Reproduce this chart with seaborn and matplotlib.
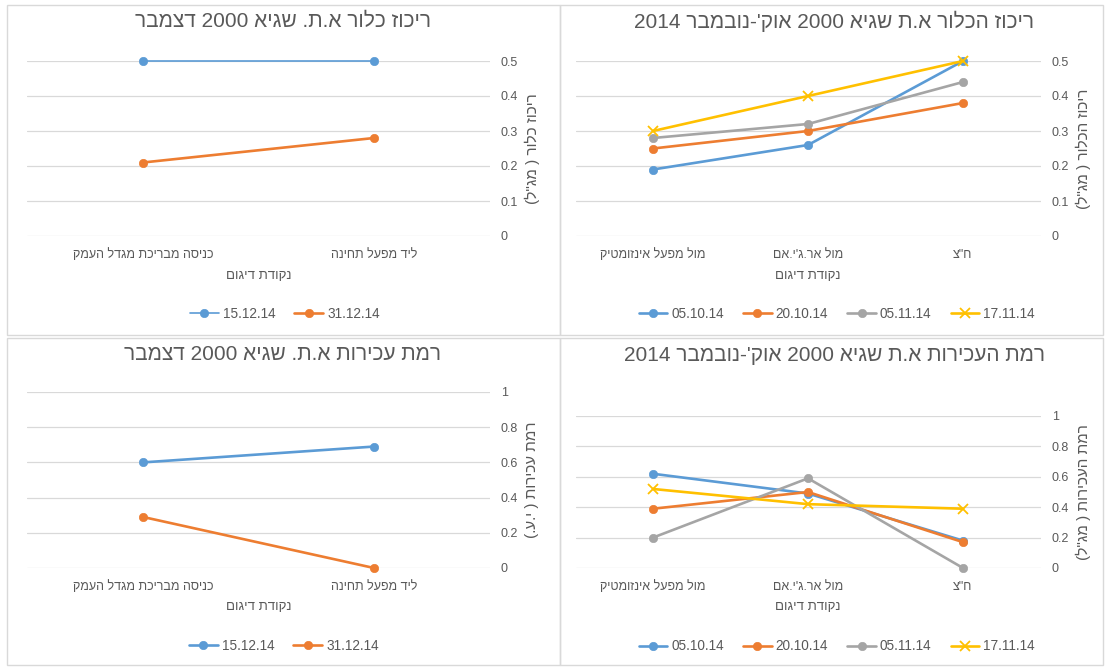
import re
import matplotlib
matplotlib.use("Agg")
import matplotlib.pyplot as plt
import seaborn as sns
from matplotlib.patches import Rectangle
from matplotlib.ticker import FuncFormatter, MultipleLocator

sns.set_style("white")
plt.rcParams['font.family'] = ['Liberation Sans', 'DejaVu Sans']

# --- data ---
sites_oct = ['ח"צ', "מול אר.ג'י.אם", 'מול מפעל אינזומטיק']
dates_oct = ['05.10.14', '20.10.14', '05.11.14', '17.11.14']
cl_0510 = [0.50, 0.26, 0.19]
cl_2010 = [0.38, 0.30, 0.25]
cl_0511 = [0.44, 0.32, 0.28]
cl_1711 = [0.50, 0.40, 0.30]
tb_0510 = [0.18, 0.49, 0.62]
tb_2010 = [0.17, 0.50, 0.39]
tb_0511 = [0.00, 0.59, 0.20]
tb_1711 = [0.39, 0.42, 0.52]

sites_dec = ['ליד מפעל תחינה', 'כניסה מבריכת מגדל העמק']
dates_dec = ['15.12.14', '31.12.14']
cl_1512 = [0.50, 0.50]
cl_3112 = [0.28, 0.21]
tb_1512 = [0.69, 0.60]
tb_3112 = [0.00, 0.29]

title_cl_oct = "ריכוז הכלור א.ת שגיא 2000 אוק'-נובמבר 2014"
title_cl_dec = "ריכוז כלור א.ת. שגיא 2000 דצמבר"
title_tb_oct = "רמת העכירות א.ת שגיא 2000 אוק'-נובמבר 2014"
title_tb_dec = "רמת עכירות א.ת. שגיא 2000 דצמבר"
ylab_cl_oct = 'ריכוז הכלור ( מג"ל)'
ylab_cl_dec = 'ריכוז כלור ( מג"ל)'
ylab_tb_oct = 'רמת העכירות ( מג"ל)'
ylab_tb_dec = 'רמת עכירות ( י.ע.)'
xlab = 'נקודת דיגום'

BLUE, ORANGE, GRAY, YELLOW = '#5B9BD5', '#ED7D31', '#A5A5A5', '#FFC000'
TXT = '#595959'
GRID = '#D9D9D9'


def rtl(s):
    # matplotlib has no bidi support: put hebrew text into visual order
    if not re.search('[\u0590-\u05FF]', s):
        return s
    mirror = {'(': ')', ')': '('}
    r = ''.join(mirror.get(c, c) for c in s[::-1])
    return re.sub(r'[0-9]+', lambda m: m.group(0)[::-1], r)


W, H = 1105, 668
fig = plt.figure(figsize=(W / 100, H / 100), dpi=100)

# panel frames (pixel coords)
for x0, y0, x1, y1 in [(7, 5, 560, 335), (560, 5, 1103, 335),
                       (7, 338, 560, 665), (560, 338, 1103, 665)]:
    fig.patches.append(Rectangle((x0 / W, 1 - y1 / H), (x1 - x0) / W, (y1 - y0) / H,
                                 transform=fig.transFigure, fill=False,
                                 edgecolor=GRID, lw=1))


def make_ax(x0, x1, ytop, ybot):
    return fig.add_axes([x0 / W, 1 - ybot / H, (x1 - x0) / W, (ybot - ytop) / H])


def style_ax(ax, sites, ymax, step, title, ylab, title_xy, xlab_y, leg_xy, ncol):
    n = len(sites)
    ax.set_xticks(range(n))
    ax.set_xticklabels([rtl(s) for s in sites])
    ax.set_xlim(n - 0.5, -0.5)
    ax.set_ylim(0, ymax)
    ax.yaxis.set_major_locator(MultipleLocator(step))
    ax.yaxis.set_major_formatter(FuncFormatter(lambda v, p: '%g' % round(v, 2)))
    ax.yaxis.tick_right()
    ax.tick_params(axis='both', length=0, labelsize=9, colors=TXT)
    ax.tick_params(axis='y', pad=8)
    ax.tick_params(axis='x', pad=9)
    for sp in ax.spines.values():
        sp.set_visible(False)
    ax.grid(axis='y', color=GRID, lw=0.9)
    ax.grid(axis='x', visible=False)
    ax.set_axisbelow(True)

    ax.set_title(rtl(title), fontsize=15, color=TXT, x=title_xy[0], y=title_xy[1], va='center')
    ax.set_xlabel(rtl(xlab), fontsize=9.5, color=TXT)
    ax.xaxis.set_label_coords(0.5, xlab_y)
    ax.xaxis.label.set_verticalalignment('center')
    ax.set_ylabel(rtl(ylab), fontsize=11, color=TXT, rotation=90)
    ax.yaxis.set_label_position('right')
    ax.yaxis.set_label_coords(1.092, 0.5)
    ax.yaxis.label.set_verticalalignment('center')

    leg = ax.legend(loc='center', bbox_to_anchor=leg_xy, ncol=ncol, frameon=False,
                    fontsize=9.8, handlelength=2.1, handletextpad=0.3, columnspacing=1.4)
    for t in leg.get_texts():
        t.set_color(TXT)


def draw(ax, sites, series, dates, colors, markers, widths):
    pos = list(range(len(sites)))
    for vals, d, c, m, lw in zip(series, dates, colors, markers, widths):
        ms = 7 if m == 'x' else 6
        sns.lineplot(x=pos, y=vals, ax=ax, color=c, lw=lw, marker=m, markersize=ms,
                     markeredgecolor=c, markeredgewidth=1.3 if m == 'x' else 0.5,
                     label=d, sort=False, clip_on=False)


# top right: chlorine Oct-Nov
ax = make_ax(575.5, 1040.5, 61, 236)
draw(ax, sites_oct, [cl_0510, cl_2010, cl_0511, cl_1711], dates_oct,
     [BLUE, ORANGE, GRAY, YELLOW], ['o', 'o', 'o', 'x'], [1.9, 1.9, 1.9, 1.9])
style_ax(ax, sites_oct, 0.5, 0.1, title_cl_oct, ylab_cl_oct,
         (0.556, 1.177), -0.229, (0.562, -0.446), 4)

# top left: chlorine Dec
ax = make_ax(27.5, 489.5, 61, 236)
draw(ax, sites_dec, [cl_1512, cl_3112], dates_dec,
     [BLUE, ORANGE], ['o', 'o'], [1.2, 1.9])
style_ax(ax, sites_dec, 0.5, 0.1, title_cl_dec, ylab_cl_dec,
         (0.553, 1.177), -0.229, (0.557, -0.446), 2)

# bottom right: turbidity Oct-Nov
ax = make_ax(575.5, 1040.5, 416, 568)
draw(ax, sites_oct, [tb_0510, tb_2010, tb_0511, tb_1711], dates_oct,
     [BLUE, ORANGE, GRAY, YELLOW], ['o', 'o', 'o', 'x'], [1.9, 1.9, 1.9, 1.9])
style_ax(ax, sites_oct, 1.0, 0.2, title_tb_oct, ylab_tb_oct,
         (0.558, 1.34), -0.255, (0.562, -0.516), 4)

# bottom left: turbidity Dec
ax = make_ax(27.5, 489.5, 392, 568)
draw(ax, sites_dec, [tb_1512, tb_3112], dates_dec,
     [BLUE, ORANGE], ['o', 'o'], [1.9, 1.9])
style_ax(ax, sites_dec, 1.0, 0.2, title_tb_dec, ylab_tb_dec,
         (0.551, 1.165), -0.222, (0.555, -0.443), 2)

fig.savefig('out.png', dpi=100)
